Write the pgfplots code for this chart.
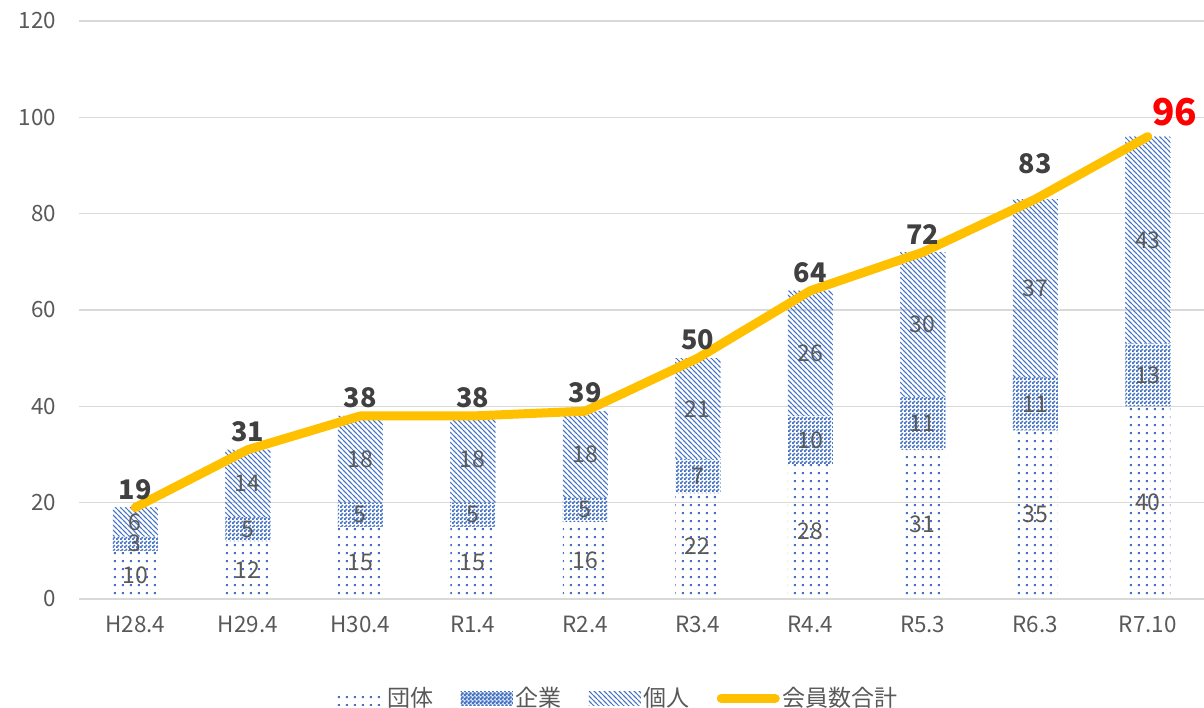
\documentclass[border=0pt]{standalone}
\usepackage{fontspec}
\setmainfont{Noto Sans CJK JP}
\usepackage{pgfplots}
\pgfplotsset{compat=1.18}
\usepackage{pgfplotstable}
\usetikzlibrary{patterns}

\definecolor{pblue}{HTML}{4472C4}
\definecolor{tgray}{HTML}{595959}
\definecolor{lgray}{HTML}{404040}
\definecolor{lineY}{HTML}{FFC000}
\definecolor{gridc}{HTML}{D9D9D9}

\pgfdeclarepatternformonly{gdots}{\pgfqpoint{0pt}{0pt}}{\pgfqpoint{4pt}{4pt}}{\pgfqpoint{4pt}{4pt}}{%
  \pgfpathrectangle{\pgfqpoint{1pt}{1pt}}{\pgfqpoint{1.2pt}{1.1pt}}\pgfusepath{fill}}
\pgfdeclarepatternformonly{checker}{\pgfqpoint{0pt}{0pt}}{\pgfqpoint{2pt}{2pt}}{\pgfqpoint{2pt}{2pt}}{%
  \pgfpathrectangle{\pgfqpoint{0pt}{0pt}}{\pgfqpoint{1pt}{1pt}}%
  \pgfpathrectangle{\pgfqpoint{1pt}{1pt}}{\pgfqpoint{1pt}{1pt}}\pgfusepath{fill}}
\pgfdeclarepatternformonly{nwl}{\pgfqpoint{-1pt}{-1pt}}{\pgfqpoint{3.5pt}{3.5pt}}{\pgfqpoint{2.5pt}{2.5pt}}{%
  \pgfsetlinewidth{0.5pt}\pgfpathmoveto{\pgfqpoint{-0.6pt}{3.1pt}}\pgfpathlineto{\pgfqpoint{3.1pt}{-0.6pt}}\pgfusepath{stroke}}

\pgfplotstableread{
x lab group firm ind total gmid fmid imid
0 H28.4 10 3 6 19 5 11.5 16
1 H29.4 12 5 14 31 6 14.5 24
2 H30.4 15 5 18 38 7.5 17.5 29
3 R1.4 15 5 18 38 7.5 17.5 29
4 R2.4 16 5 18 39 8 18.5 30
5 R3.4 22 7 21 50 11 25.5 39.5
6 R4.4 28 10 26 64 14 33 51
7 R5.3 31 11 30 72 15.5 36.5 57
8 R6.3 35 11 37 83 17.5 40.5 64.5
9 R7.10 40 13 43 96 20 46.5 74.5
}\data

\pgfplotsset{
  barlegend/.style={legend image code/.code={\fill[##1] (0pt,-3.3pt) rectangle (26pt,3.3pt);}},
  checklegend/.style={legend image code/.code={\fill[pblue!22] (0pt,-3.3pt) rectangle (26pt,3.3pt);\fill[##1] (0pt,-3.3pt) rectangle (26pt,3.3pt);}},
  linelegend/.style={legend image code/.code={\draw[##1] (1.5pt,0pt) -- (28.5pt,0pt);}},
  common/.style={at={(39.5pt,54pt)}, anchor=south west, scale only axis,
    width=562.5pt, height=289pt, xmin=-0.5, xmax=9.5, ymin=0, ymax=120},
  seglab/.style={draw=none, nodes near coords, point meta=explicit symbolic,
    every node near coord/.append style={anchor=center, text=tgray, font=\fontsize{11.5}{13}\selectfont, inner sep=0pt}},
  totlab/.style={draw=none, nodes near coords, point meta=explicit symbolic,
    every node near coord/.append style={anchor=south, text=lgray, font=\fontsize{13.5}{15}\selectfont\bfseries}},
}

\begin{document}
\begin{tikzpicture}
\useasboundingbox (0,0) rectangle (602pt,353.5pt);
\begin{axis}[common,
  ybar stacked, bar width=22.5pt,
  ytick={0,20,...,120},
  xtick=data, xticklabels from table={\data}{lab},
  axis line style={draw=none},
  ymajorgrids, grid style={color=gridc, line width=0.75pt},
  major tick length=0pt,
  /pgf/number format/assume math mode=true,
  tick label style={text=tgray, font=\fontsize{11.2}{13}\selectfont},
  yticklabel style={xshift=-8pt},
  xticklabel style={yshift=-5pt},
  legend style={at={(0.478,-0.172)}, anchor=center, draw=none, fill=none,
    legend columns=-1, font=\fontsize{11.5}{13}\selectfont, text=tgray,
    nodes={inner xsep=1.5pt},
    /tikz/every even column/.append style={column sep=12pt},
    legend cell align=left},
]
\addplot[draw=none, pattern=gdots, pattern color=pblue, barlegend] table[x=x, y=group] {\data};
\addlegendentry{団体}
\addplot[draw=none, fill=pblue!22, postaction={pattern=checker, pattern color=pblue}, checklegend, pattern=checker, pattern color=pblue] table[x=x, y=firm] {\data};
\addlegendentry{企業}
\addplot[draw=none, pattern=nwl, pattern color=pblue, barlegend] table[x=x, y=ind] {\data};
\addlegendentry{個人}
\addlegendimage{linelegend, color=lineY, line width=4.5pt, line cap=round}
\addlegendentry{会員数合計}
\end{axis}

\begin{axis}[common, hide axis, clip=false]
\addplot[seglab] table[x=x, y=gmid, meta=group] {\data};
\addplot[seglab] table[x=x, y=fmid, meta=firm] {\data};
\addplot[seglab] table[x=x, y=imid, meta=ind] {\data};
\addplot[color=lineY, line width=4.5pt, line cap=round, line join=round, mark=none]
  table[x=x, y=total] {\data};
\addplot[totlab, skip coords between index={8}{10},
  every node near coord/.append style={yshift=0.5pt}]
  table[x=x, y=total, meta=total] {\data};
\addplot[totlab, skip coords between index={0}{8}, skip coords between index={9}{10},
  every node near coord/.append style={yshift=9pt}]
  table[x=x, y=total, meta=total] {\data};
\addplot[draw=none, nodes near coords, point meta=explicit symbolic,
  skip coords between index={0}{9},
  every node near coord/.append style={anchor=south, yshift=2pt, xshift=13.5pt, text=red, font=\fontsize{18.5}{22}\selectfont\bfseries}]
  table[x=x, y=total, meta=total] {\data};
\end{axis}
\end{tikzpicture}
\end{document}
